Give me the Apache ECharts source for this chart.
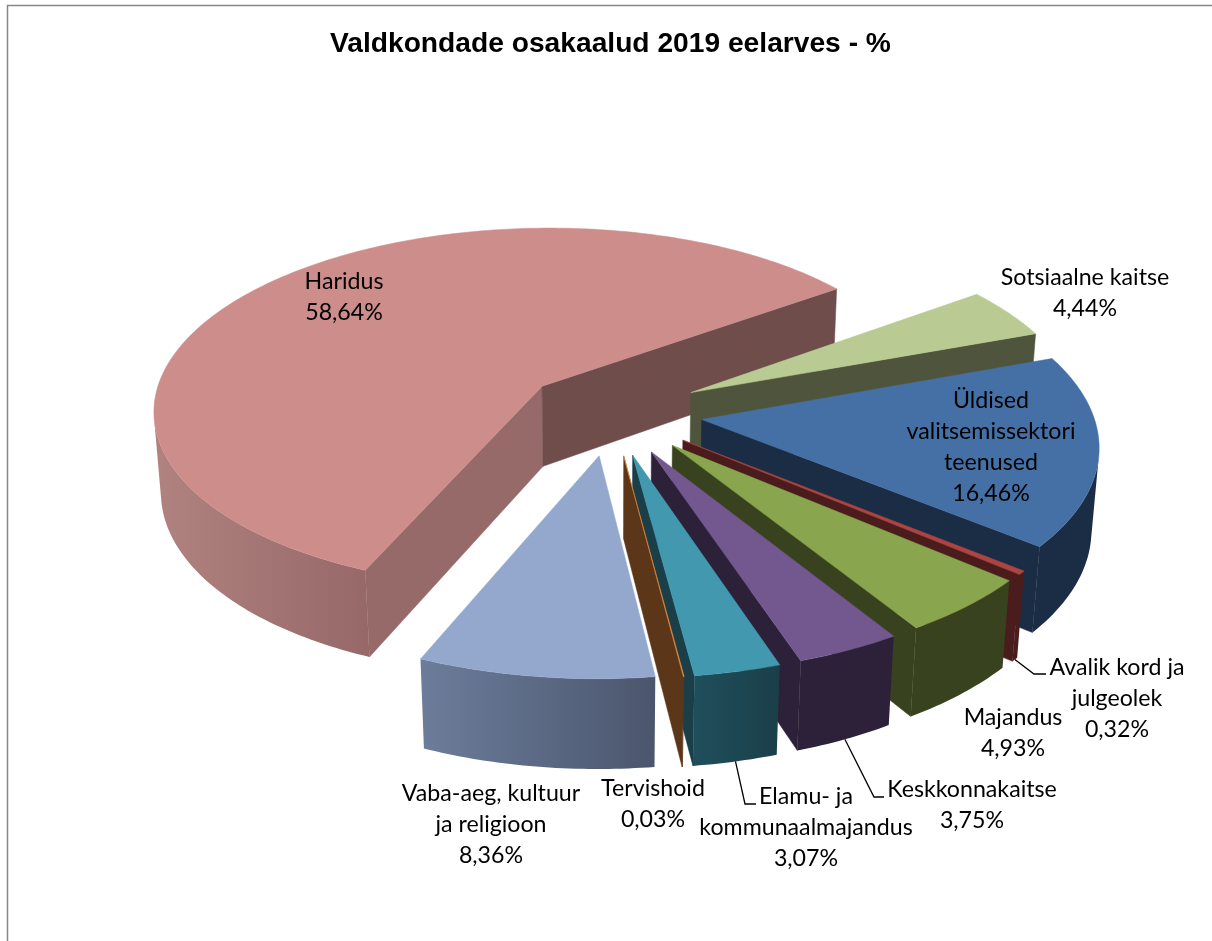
<!DOCTYPE html>
<html>
<head>
<meta charset="utf-8">
<style>html,body{margin:0;background:#fff}#chart{width:1212px;height:941px}</style>
<script src="https://cdn.jsdelivr.net/npm/echarts@6/dist/echarts.min.js"></script>
</head>
<body>
<div id="chart"></div>
<script>
// andmed
const categories = ['Haridus', 'Sotsiaalne kaitse', 'Üldised\nvalitsemissektori\nteenused', 'Avalik kord ja\njulgeolek', 'Majandus', 'Keskkonnakaitse', 'Elamu- ja\nkommunaalmajandus', 'Tervishoid', 'Vaba-aeg, kultuur\nja religioon']
const shares = [58.64, 4.44, 16.46, 0.32, 4.93, 3.75, 3.07, 0.03, 8.36]

// varvid: pealis, sein algus, sein lopp, kaar vasak, kaar parem
const topColors = ['#cd8d8b', '#b9cb92', '#4570a6', '#ac4442', '#89a54e', '#72588f', '#4198af', '#e98d3d', '#94a8ce']
const startWallColors = ['#966a69', '#4f553c', '#1a2d45', '#4a1c1b', '#38421e', '#2c2139', '#1a3f49', '#5c3618', '#4d586f']
const endWallColors = ['#6e4d4b', '#4f553c', '#1a2d45', '#4a1c1b', '#38421e', '#2c2139', '#1a3f49', '#5c3618', '#6b7d9b']
const arcLeftColors = ['#b08380', '#4f553c', '#1a2d45', '#4a1c1b', '#38421e', '#2c2139', '#1f4f5b', '#5c3618', '#6c7d9b']
const arcRightColors = ['#966868', '#4f553c', '#1a2d45', '#4a1c1b', '#38421e', '#2c2139', '#1a3f49', '#5c3618', '#4b566d']

// sildi keskkoht (x, esimese rea y)
const labelX = [344, 1085, 991, 1117, 1013, 972, 806, 653, 491]
const labelY = [282, 278, 401, 668, 718, 790, 797, 789, 794]
// juhtjooned: viilu indeks ja murdepunkt, lopp
const leaders = [
  { slice: 3, elbow: [1034, 674], end: [1046, 674] },
  { slice: 5, elbow: [874, 797], end: [884, 797] },
  { slice: 6, elbow: [745, 804], end: [756, 804] }
]

// 3D vaade
const cx = 611.85, cy = 412.36, radius = 390.97
const tilt = 0.4893, dist = 7.1656
const startAngle = 3.5406, explode = 0.232, thick = 0.2382

const project = (x, y, z) => {
  const v = y * Math.sin(tilt) + z * Math.cos(tilt)
  const d = dist + y * Math.cos(tilt) - z * Math.sin(tilt)
  const s = dist / d
  return [cx + radius * x * s, cy - radius * v * s]
}

const total = shares.reduce((a, b) => a + b, 0)
let acc = startAngle
const slices = shares.map(v => {
  const sweep = v / total * Math.PI * 2
  const from = acc
  acc += sweep
  const mid = from + sweep / 2
  return { from, to: from + sweep, mid, ax: explode * Math.sin(mid), ay: explode * Math.cos(mid) }
})

const onRim = (s, th, z) => project(s.ax + Math.sin(th), s.ay + Math.cos(th), z)
const apex = (s, z) => project(s.ax, s.ay, z)

// kas pind on kaamera poole
const camY = -dist * Math.cos(tilt)
const wallFacing = (s, th, sign) => {
  const nx = sign * Math.cos(th), ny = -sign * Math.sin(th)
  return -s.ax * nx + (camY - s.ay) * ny > 0
}
const rimFacing = (s, th) => {
  const px = s.ax + Math.sin(th), py = s.ay + Math.cos(th)
  return -px * Math.sin(th) + (camY - py) * Math.cos(th) > 0
}

const wall = (s, th, fill) => ({
  type: 'polygon',
  shape: { points: [apex(s, 0), onRim(s, th, 0), onRim(s, th, -thick), apex(s, -thick)] },
  style: { fill, stroke: fill, lineWidth: 0.5 }
})

const renderSlice = (params) => {
  const i = params.dataIndex
  const s = slices[i]
  const children = []
  if (wallFacing(s, s.from, -1)) children.push(wall(s, s.from, startWallColors[i]))
  if (wallFacing(s, s.to, 1)) children.push(wall(s, s.to, endWallColors[i]))

  // kaare sein, ainult nahtav osa
  const steps = Math.max(2, Math.ceil((s.to - s.from) / 0.015))
  const upper = [], lower = []
  for (let k = 0; k <= steps; k++) {
    const th = s.from + (s.to - s.from) * k / steps
    if (rimFacing(s, th)) {
      upper.push(onRim(s, th, 0))
      lower.push(onRim(s, th, -thick))
    }
  }
  if (upper.length > 1) {
    const pts = upper.concat(lower.reverse())
    children.push({
      type: 'polygon',
      shape: { points: pts },
      style: {
        fill: {
          type: 'linear', x: 0, y: 0, x2: 1, y2: 0,
          colorStops: [{ offset: 0, color: arcLeftColors[i] }, { offset: 1, color: arcRightColors[i] }]
        }
      }
    })
  }

  const face = [apex(s, 0)]
  for (let k = 0; k <= steps; k++) face.push(onRim(s, s.from + (s.to - s.from) * k / steps, 0))
  children.push({
    type: 'polygon',
    shape: { points: face },
    style: { fill: topColors[i], stroke: topColors[i], lineWidth: 0.5 }
  })
  return { type: 'group', children }
}

const labelFont = { fontFamily: 'Lato', fontSize: 23.2, lineHeight: 30.7 }
const renderLabel = (params) => {
  const i = params.dataIndex
  const txt = categories[i] + '\n' + shares[i].toFixed(2).replace('.', ',') + '%'
  return {
    type: 'text',
    style: {
      x: labelX[i], y: labelY[i] - 15.35, text: txt, fill: '#000',
      align: 'center', verticalAlign: 'top', ...labelFont
    }
  }
}
const renderLeader = (params) => {
  const l = leaders[params.dataIndex]
  const s = slices[l.slice]
  return {
    type: 'polyline',
    shape: { points: [onRim(s, s.mid, -thick), l.elbow, l.end] },
    style: { stroke: '#000', lineWidth: 1.3, fill: 'none' }
  }
}

const myChart = echarts.init(document.getElementById('chart'), null, { renderer: 'canvas' })
myChart.setOption({
  animation: false,
  backgroundColor: '#fff',
  title: {
    text: 'Valdkondade osakaalud 2019 eelarves - %',
    left: 325,
    top: 25,
    textStyle: { fontFamily: 'Liberation Sans', fontWeight: 'bold', fontSize: 28.2, color: '#000' }
  },
  graphic: [{
    type: 'polyline',
    shape: { points: [[1212, 5.5], [7.5, 5.5], [7.5, 941]] },
    style: { stroke: '#868686', lineWidth: 1.5, fill: 'none' },
    silent: true
  }],
  series: [
    { type: 'custom', coordinateSystem: 'none', silent: true, renderItem: renderSlice, data: shares, z: 2 },
    { type: 'custom', coordinateSystem: 'none', silent: true, renderItem: renderLeader, data: leaders.map(l => l.slice), z: 3 },
    { type: 'custom', coordinateSystem: 'none', silent: true, renderItem: renderLabel, data: shares, z: 4 }
  ]
})
</script>
</body>
</html>
